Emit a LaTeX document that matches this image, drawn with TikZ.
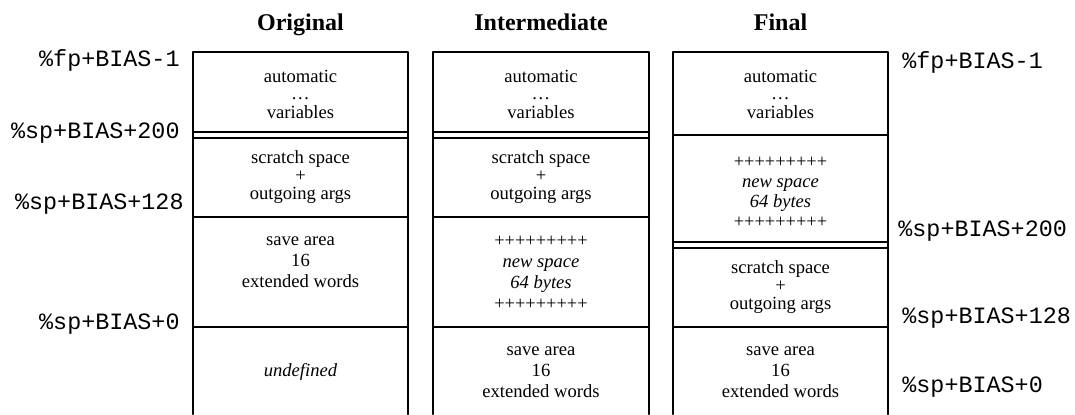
\documentclass[tikz,border=0pt]{standalone}
\usepackage{fontspec}
\setmainfont{Liberation Serif}
\setmonofont{Liberation Mono}
\begin{document}
\begin{tikzpicture}[x=0.5pt,y=-0.5pt,line join=round,line cap=round]
	\tikzset{cell/.style={align=center,inner sep=0pt,font=\fontsize{9.3}{10.5}\selectfont},
		head/.style={anchor=base,font=\fontsize{12}{14}\selectfont\bfseries},
		addr/.style={inner sep=0pt,font=\fontsize{11.7}{14}\selectfont\ttfamily},
		wall/.style={line width=1pt}}
	\newcommand{\pluses}{{\fontsize{9.2}{10}\selectfont +++++++++}}
	\useasboundingbox (0,0) rectangle (1075,414);
	% titles
	\node[head] (tOrig) at (300.5,30) {Original};
	\node[head] (tInter) at (541,30) {Intermediate};
	\node[head] (tFinal) at (780.5,30) {Final};
	% original
	\draw[wall] (193,414)--(193,52)--(408,52)--(408,414);
	\draw[wall] (193,132)--(408,132);
	\draw[wall] (193,138)--(408,138);
	\draw[wall] (193,217)--(408,217);
	\draw[wall] (193,327)--(408,327);
	\node[cell] (oAuto) at (300.5,94) {automatic\\[-2pt]\ldots\\[-1pt]variables};
	\node[cell] (oScratch) at (300.5,177) {scratch space\\[-1.5pt]+\\[-1.5pt]outgoing args};
	\node[cell] (oSave) at (300.5,262) {save area\\16\\extended words};
	\node[cell] (oUndef) at (300.5,372) {\itshape undefined};
	% intermediate
	\draw[wall] (433,414)--(433,52)--(649,52)--(649,414);
	\draw[wall] (433,132)--(649,132);
	\draw[wall] (433,138)--(649,138);
	\draw[wall] (433,217)--(649,217);
	\draw[wall] (433,327)--(649,327);
	\node[cell] (iAuto) at (541,94) {automatic\\[-2pt]\ldots\\[-1pt]variables};
	\node[cell] (iScratch) at (541,177) {scratch space\\[-1.5pt]+\\[-1.5pt]outgoing args};
	\node[cell] (iNew) at (541,273) {\pluses\\\itshape new space\\\itshape 64 bytes\\\pluses};
	\node[cell] (iSave) at (541,372) {save area\\16\\extended words};
	% final
	\draw[wall] (673,414)--(673,52)--(888,52)--(888,414);
	\draw[wall] (673,135)--(888,135);
	\draw[wall] (673,242)--(888,242);
	\draw[wall] (673,248)--(888,248);
	\draw[wall] (673,327)--(888,327);
	\node[cell] (fAuto) at (780.5,94) {automatic\\[-2pt]\ldots\\[-1pt]variables};
	\node[cell] (fNew) at (780.5,192) {\pluses\\[-0.5pt]\itshape new space\\[-0.5pt]\itshape 64 bytes\\[-0.5pt]\pluses};
	\node[cell] (fScratch) at (780.5,287) {scratch space\\[-1.5pt]+\\[-1.5pt]outgoing args};
	\node[cell] (fSave) at (780.5,372) {save area\\16\\extended words};
	% addresses
	\node[addr,anchor=mid east] (lFp) at (180,62) {\%fp+BIAS-1};
	\node[addr,anchor=mid east] (l200) at (180,134) {\%sp+BIAS+200};
	\node[addr,anchor=mid east] (l128) at (184,205) {\%sp+BIAS+128};
	\node[addr,anchor=mid east] (l0) at (180,325) {\%sp+BIAS+0};
	\node[addr,anchor=mid west] (rFp) at (902,64) {\%fp+BIAS-1};
	\node[addr,anchor=mid west] (r200) at (898,232) {\%sp+BIAS+200};
	\node[addr,anchor=mid west] (r128) at (902,319) {\%sp+BIAS+128};
	\node[addr,anchor=mid west] (r0) at (902,388) {\%sp+BIAS+0};
\end{tikzpicture}
\end{document}
